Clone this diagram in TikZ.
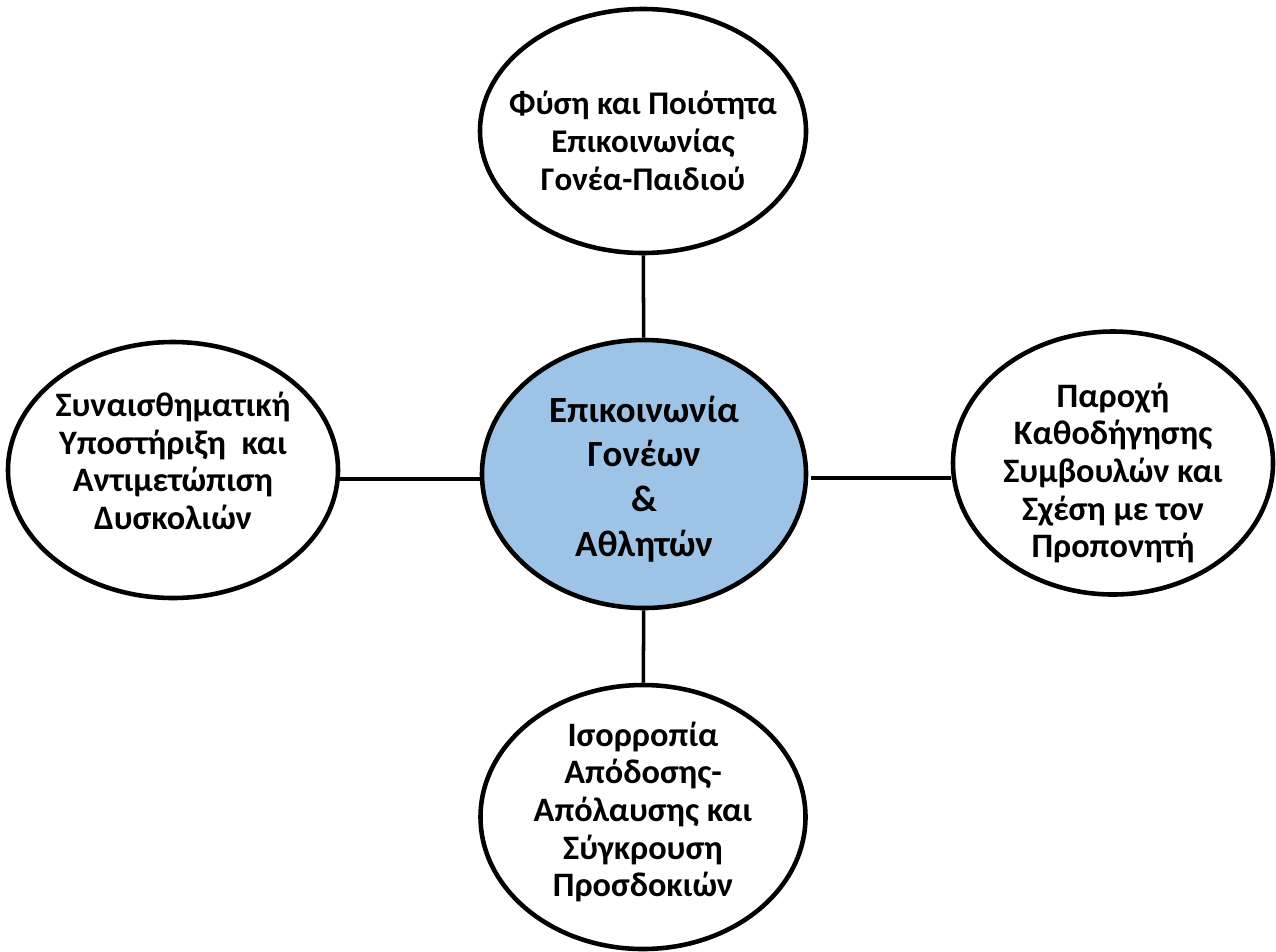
\documentclass[tikz,border=0pt]{standalone}
\usepackage{fontspec}
\setmainfont{Carlito}
\usetikzlibrary{shapes.geometric}

\definecolor{hubblue}{HTML}{9DC3E6}

\tikzset{
    bubble/.style={ellipse, draw=black, line width=2.6pt, fill=white, inner sep=0pt},
    txt/.style={align=center, font=\fontsize{19.5}{21.4}\selectfont\bfseries},
    link/.style={line width=2pt}
}

\begin{document}
\begin{tikzpicture}
    % Canvas
    \useasboundingbox (0,0) rectangle (25.52,-19.02);

    % Ellipses
    \node[bubble, fill=hubblue, minimum width=6.48cm, minimum height=5.36cm] (hub) at (12.88,-9.48) {};
    \node[bubble, minimum width=6.52cm, minimum height=4.88cm] (top) at (12.86,-2.62) {};
    \node[bubble, minimum width=6.6cm, minimum height=5.12cm] (left) at (3.46,-9.4) {};
    \node[bubble, minimum width=6.4cm, minimum height=5.26cm] (right) at (22.26,-9.26) {};
    \node[bubble, minimum width=6.5cm, minimum height=5.28cm] (bottom) at (12.86,-16.34) {};

    % Texts
    \node[txt, font=\fontsize{21}{25.5}\selectfont\bfseries] (hubTxt) at ([yshift=-0.1cm]hub.center)
        {Επικοινωνία\\Γονέων\\\&\\Αθλητών};
    \node[txt, font=\fontsize{18.8}{21.6}\selectfont\bfseries] (topTxt) at ([yshift=-0.2cm]top.center)
        {Φύση και Ποιότητα\\Επικοινωνίας\\ Γονέα-Παιδιού};
    \node[txt] (leftTxt) at ([yshift=0.18cm]left.center)
        {Συναισθηματική\\ Υποστήριξη\ \ και\\ Αντιμετώπιση\\ Δυσκολιών};
    \node[txt] (rightTxt) at ([yshift=-0.2cm]right.center)
        {Παροχή\\Καθοδήγησης\\Συμβουλών και\\Σχέση με τον\\Προπονητή};
    \node[txt] (bottomTxt) at ([yshift=0.1cm]bottom.center)
        {Ισορροπία\\ Απόδοσης-\\Απόλαυσης και\\Σύγκρουση\\ Προσδοκιών};

    % Connectors
    \draw[link] (top) -- (hub);
    \draw[link] (hub) -- (bottom);
    \draw[link] (left.east |- 0,-9.58) -- (hub.west |- 0,-9.58);
    \draw[link, shorten <=0.06cm] (hub.east |- 0,-9.56) -- (right.west |- 0,-9.56);
\end{tikzpicture}
\end{document}
